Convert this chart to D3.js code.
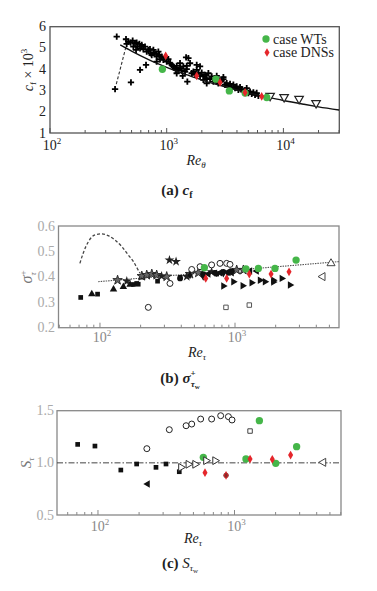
<!DOCTYPE html>
<html><head><meta charset="utf-8">
<script src="https://cdn.jsdelivr.net/npm/d3@7/dist/d3.min.js"></script>
<style>body{margin:0;background:#fff}svg{display:block}text{font-family:"Liberation Serif","DejaVu Serif",serif}</style>
</head><body><svg id="c" width="377" height="591"></svg>
<script>
// ---------- Panel (a) data: Re_theta vs cf x 10^3 ----------
const aCross = [[373,5.53],[361,3.06],[494,3.38],[591,3.97],[665,4.20],
[448,5.41],[469,5.30],[454,5.19],[491,5.25],[511,5.34],[535,5.22],[553,5.25],[518,5.06],[561,5.06],[583,5.19],
[611,5.14],[546,4.91],[591,4.98],[631,4.94],[652,5.06],[674,4.83],[697,4.91],[719,4.94],[729,4.75],[769,4.91],
[779,4.78],[744,4.67],[811,4.72],[820,4.59],[848,4.83],[865,4.67],[906,4.59],[936,4.44],[968,4.56],[1000,4.36],
[1033,4.47],[877,4.47],[820,4.36],[1069,4.28],[1104,4.20],[1140,4.13],[1178,4.05],[1218,4.16],[1259,3.97],[1301,4.05],
[1345,3.94],[1390,4.13],[1436,3.89],[1484,4.00],[1466,4.56],[1534,4.52],[1585,4.28],[1638,3.81],[1693,3.89],[1750,3.73],
[1808,3.97],[1868,3.81],[1931,3.69],[1995,3.84],[2062,3.66],[2131,3.73],[2202,3.58],[2276,3.81],[2352,3.53],[2430,3.66],
[2512,3.42],[2595,3.50],[2683,3.58],[2772,3.34],[2865,3.42],[2961,3.50],[3060,3.53],[3162,3.27],[3268,3.34],[3377,3.22],
[3490,3.31],[3606,3.16],[3727,3.27],[3852,3.11],[3981,3.19],[4113,3.03],[4251,3.16],[4393,3.06],[4540,2.95],[4691,3.00],
[4848,3.11],[5012,2.88],[5179,2.95],[5352,2.84],[5531,2.91],[5715,2.80],[5906,2.88],[6104,2.75],[1503,3.42],[1371,3.69],
[1218,3.81],[2202,3.34],[1484,4.16],[1301,4.28],[1931,4.13],[1808,4.20],[1202,3.97],[2062,3.50],[2683,3.69],[3060,3.63]];
const aGreen = [[918,4.00],[2640,3.53],[3440,2.98],[4700,2.88],[7200,2.67]];
const aRed = [[980,4.63],[1808,3.69],[2865,3.38],[4691,2.91],[6518,2.72]];
const aTriDown = [[7690,2.75],[10140,2.69],[13620,2.61],[19050,2.41]];
const aLineRe = [400,500,700,1000,1500,2000,3000,5000,7000,10000,15000,20000,30000];
const aLineCf = [5.14,4.85,4.45,4.09,3.73,3.49,3.21,2.89,2.71,2.53,2.35,2.23,2.08];
const aDashRe = [370,450];
const aDashCf = [3.3,5.1];
const aYTicks = [1,2,3,4,5,6];
const aXTicks = [100,1000,10000];
const legendLabels = ["case WTs","case DNSs"];

// ---------- Panel (b) data: Re_tau vs sigma+ ----------
const bFilledSquare = [[72,0.319],[96,0.332],[177,0.370],[187,0.374],[192,0.371],[267,0.383],[392,0.398],[582,0.407],[731,0.411],[893,0.414]];
const bFilledTri = [[87,0.332],[126,0.351],[149,0.361],[167,0.370],[204,0.398]];
const bOpenStar = [[135,0.387],[204,0.403],[222,0.407],[242,0.411],[263,0.407],[312,0.401],[464,0.411],[535,0.416],[1029,0.427],[1153,0.427]];
const bFilledStar = [[158,0.383],[286,0.403],[327,0.466],[366,0.460],[439,0.401],[671,0.420]];
const bFilledCircle = [[392,0.394],[582,0.411],[711,0.416],[820,0.420],[945,0.423]];
const bOpenCircle = [[228,0.280],[330,0.374],[478,0.429],[551,0.440],[671,0.447],[774,0.453],[867,0.453],[918,0.449]];
const bFilledLeftTri = [[634,0.411],[711,0.414],[774,0.416],[893,0.420],[945,0.416],[1291,0.423],[1446,0.423]];
const bFilledRightTri = [[820,0.364],[973,0.381],[1140,0.365],[1328,0.377],[1531,0.387],[1667,0.381],[1922,0.387],[1922,0.380],[2220,0.394],[2555,0.368]];
const bFilledDiamond = [[464,0.407],[582,0.401],[820,0.414]];
const bOpenSquare = [[857,0.280],[1276,0.289]];
const bOpenTriUp = [[5140,0.453]];
const bOpenLeftTri = [[4460,0.401]];
const bGreen = [[593,0.436],[1205,0.431],[1489,0.433],[1977,0.433],[2833,0.466]];
const bRed = [[607,0.394],[867,0.394],[1276,0.411],[1849,0.411],[2512,0.420]];
const bDashRe = [71,75,82,92,103,115,129,145,162,177,189,198];
const bDashS = [0.453,0.492,0.538,0.565,0.569,0.562,0.545,0.519,0.486,0.460,0.433,0.414];
const bFitRe = [97,1000,5900];
const bFitS = [0.381,0.426,0.460];
const bYTicks = [0.2,0.3,0.4,0.5,0.6];
const bXTicks = [100,1000];

// ---------- Panel (c) data: Re_tau vs S ----------
const cFilledSquare = [[71,1.177],[95,1.161],[147,0.931],[192,0.989],[266,0.957],[315,0.989],[394,0.915]];
const cFilledLeftTri = [[231,0.797]];
const cOpenCircle = [[228,1.136],[333,1.318],[442,1.356],[486,1.372],[565,1.420],[680,1.420],[792,1.452],[902,1.443],[959,1.411]];
const cOpenRightTri = [[405,0.957],[459,0.986],[514,0.986],[618,1.021],[720,1.021]];
const cOpenSquare = [[1300,1.305]];
const cGreen = [[591,1.053],[1521,1.404],[1213,1.037],[2005,0.995],[2851,1.155]];
const cRed = [[608,0.906],[867,0.880],[1300,1.037],[1892,1.034],[2576,1.075]];
const cDark = [[867,0.880]];
const cOpenLeftTri = [[4478,1.005]];
const cRefLine = [1.0];
const cYTicks = [0.5,1.0,1.5];
const cXTicks = [100,1000];

const GREEN = "#45b649", RED = "#e5262b";
const svg = d3.select("#c");

const plus = {draw(ctx, size){const r=Math.sqrt(size)/2;ctx.moveTo(-r,0);ctx.lineTo(r,0);ctx.moveTo(0,-r);ctx.lineTo(0,r);}};

function marks(g, data, x, y, shape, size, o){
  o = o||{};
  g.append("g").selectAll("path").data(data).join("path")
    .attr("d", d3.symbol(shape, size)())
    .attr("transform", d => `translate(${x(d[0])},${y(d[1])}) rotate(${o.rot||0})`)
    .attr("fill", o.fill||"none").attr("stroke", o.stroke||"none")
    .attr("stroke-width", o.sw||1);
}

function frame(g, x, y, color){
  const [x0,x1]=x.range(), [y0,y1]=y.range();
  g.append("rect").attr("x",x0).attr("y",y1).attr("width",x1-x0).attr("height",y0-y1)
    .attr("fill","none").attr("stroke",color).attr("stroke-width",1.3);
  g.append("g").selectAll("line").data(x.ticks()).join("line")
    .attr("x1",d=>x(d)).attr("x2",d=>x(d)).attr("y1",y0)
    .attr("y2",d=>Math.abs(Math.log10(d)-Math.round(Math.log10(d)))<1e-9 ? y0-5 : y0-3)
    .attr("stroke",color).attr("stroke-width",1);
}

function xLabels(g, ticks, x, yb, color){
  const t = g.append("g").selectAll("text").data(ticks).join("text")
    .attr("x",d=>x(d)+2).attr("y",yb).attr("text-anchor","middle")
    .attr("font-size",14).attr("fill",color);
  t.append("tspan").text("10");
  t.append("tspan").attr("dy",-6).attr("font-size",9).text(d=>Math.round(Math.log10(d)));
}
function yLabels(g, ticks, y, xr, color, fmt){
  g.append("g").selectAll("text").data(ticks).join("text")
    .attr("x",xr).attr("y",d=>y(d)+4.5).attr("text-anchor","end")
    .attr("font-size",14).attr("fill",color).text(fmt);
}

// ================= Panel (a) =================
{
  const g = svg.append("g");
  const x = d3.scaleLog().domain([100,30130]).range([50,339.3]);
  const y = d3.scaleLinear().domain([1,6]).range([133,26.7]);
  frame(g,x,y,"#555");
  xLabels(g,aXTicks,x,150,"#222");
  yLabels(g,aYTicks,y,46,"#222",d=>d);
  const line = d3.line().x(d=>x(d[0])).y(d=>y(d[1])).curve(d3.curveMonotoneX);
  g.append("path").attr("d",line(aDashRe.map((r,i)=>[r,aDashCf[i]]))).attr("fill","none")
    .attr("stroke","#333").attr("stroke-width",1.1).attr("stroke-dasharray","3,2");
  marks(g,aCross,x,y,plus,40,{stroke:"#000",sw:1.8});
  g.append("path").attr("d",line(aLineRe.map((r,i)=>[r,aLineCf[i]]))).attr("fill","none")
    .attr("stroke","#111").attr("stroke-width",1.4);
  marks(g,aTriDown,x,y,d3.symbolTriangle,32,{fill:"#fff",stroke:"#222",sw:1.2,rot:180});
  marks(g,aGreen,x,y,d3.symbolCircle,42,{fill:GREEN});
  marks(g,aRed,x,y,d3.symbolDiamond,22,{fill:RED});
  // legend
  g.append("path").attr("d",d3.symbol(d3.symbolCircle,42)()).attr("transform","translate(266,39)").attr("fill",GREEN);
  g.append("path").attr("d",d3.symbol(d3.symbolDiamond,22)()).attr("transform","translate(267,52.5)").attr("fill",RED);
  g.selectAll(".lg").data(legendLabels).join("text").attr("x",273).attr("y",(d,i)=>43.5+i*13.5)
    .attr("font-size",14).attr("fill","#222").text(d=>d);
  // axis titles
  const yt = g.append("text").attr("transform","translate(33,70) rotate(-90)").attr("text-anchor","middle").attr("font-size",14).attr("fill","#222");
  yt.append("tspan").attr("font-style","italic").text("c");
  yt.append("tspan").attr("font-size",9).attr("dy",3).text("f");
  yt.append("tspan").attr("dy",-3).text(" × 10");
  yt.append("tspan").attr("font-size",9).attr("dy",-6).text("3");
  const xt = g.append("text").attr("x",196).attr("y",165).attr("text-anchor","middle").attr("font-size",14).attr("fill","#222").attr("font-style","italic");
  xt.append("tspan").text("Re");
  xt.append("tspan").attr("font-size",9).attr("dy",3).text("θ");
  const cap = g.append("text").attr("x",177).attr("y",195).attr("text-anchor","middle").attr("font-size",15).attr("fill","#222");
  cap.append("tspan").attr("font-weight","bold").text("(a) ");
  cap.append("tspan").attr("font-weight","bold").attr("font-style","italic").text("c");
  cap.append("tspan").attr("font-weight","bold").attr("font-size",10).attr("dy",3).text("f");
}

// ================= Panel (b) =================
{
  const g = svg.append("g");
  const x = d3.scaleLog().domain([49.3,5890]).range([58.5,339]);
  const y = d3.scaleLinear().domain([0.2,0.6]).range([327.7,226]);
  frame(g,x,y,"#888");
  xLabels(g,bXTicks,x,342,"#888");
  yLabels(g,bYTicks,y,55,"#aaa",d=>d.toFixed(1));
  const line = d3.line().x(d=>x(d[0])).y(d=>y(d[1])).curve(d3.curveMonotoneX);
  g.append("path").attr("d",line(bDashRe.map((r,i)=>[r,bDashS[i]]))).attr("fill","none")
    .attr("stroke","#444").attr("stroke-width",1.3).attr("stroke-dasharray","3,2");
  g.append("path").attr("d",line(bFitRe.map((r,i)=>[r,bFitS[i]]))).attr("fill","none")
    .attr("stroke","#555").attr("stroke-width",1.1).attr("stroke-dasharray","1.5,1");
  marks(g,bFilledSquare,x,y,d3.symbolSquare,22,{fill:"#111"});
  marks(g,bFilledTri,x,y,d3.symbolTriangle,24,{fill:"#111"});
  marks(g,bOpenStar,x,y,d3.symbolStar,28,{fill:"#666",stroke:"#222",sw:0.9});
  marks(g,bFilledStar,x,y,d3.symbolStar,30,{fill:"#222"});
  marks(g,bFilledCircle,x,y,d3.symbolCircle,26,{fill:"#111"});
  marks(g,bOpenCircle,x,y,d3.symbolCircle,28,{fill:"#fff",stroke:"#222",sw:1});
  marks(g,bFilledLeftTri,x,y,d3.symbolTriangle,24,{fill:"#111",rot:-90});
  marks(g,bFilledRightTri,x,y,d3.symbolTriangle,24,{fill:"#111",rot:90});
  marks(g,bFilledDiamond,x,y,d3.symbolDiamond,20,{fill:"#111"});
  marks(g,bOpenSquare,x,y,d3.symbolSquare,20,{fill:"#fff",stroke:"#555",sw:1});
  marks(g,bOpenTriUp,x,y,d3.symbolTriangle,28,{fill:"#fff",stroke:"#444",sw:1});
  marks(g,bOpenLeftTri,x,y,d3.symbolTriangle,28,{fill:"#fff",stroke:"#444",sw:1,rot:-90});
  marks(g,bGreen,x,y,d3.symbolCircle,42,{fill:GREEN});
  marks(g,bRed,x,y,d3.symbolDiamond,22,{fill:RED});
  const yt = g.append("text").attr("transform","translate(32,277) rotate(-90)").attr("text-anchor","middle").attr("font-size",16).attr("fill","#777");
  yt.append("tspan").attr("font-style","italic").text("σ");
  yt.append("tspan").attr("font-size",9).attr("dy",-6).text("+");
  yt.append("tspan").attr("font-size",9).attr("dx",-5).attr("dy",10).attr("font-style","italic").text("τ");
  const xt = g.append("text").attr("x",197).attr("y",357).attr("text-anchor","middle").attr("font-size",14).attr("fill","#222").attr("font-style","italic");
  xt.append("tspan").text("Re");
  xt.append("tspan").attr("font-size",9).attr("dy",3).text("τ");
  const cap = g.append("text").attr("x",180).attr("y",383).attr("text-anchor","middle").attr("font-size",15).attr("fill","#222");
  cap.append("tspan").attr("font-weight","bold").text("(b) ");
  cap.append("tspan").attr("font-weight","bold").attr("font-style","italic").text("σ");
  cap.append("tspan").attr("font-weight","bold").attr("font-size",9).attr("dy",-7).text("+");
  cap.append("tspan").attr("font-weight","bold").attr("font-style","italic").attr("font-size",9).attr("dx",-5).attr("dy",11).text("τ");
  cap.append("tspan").attr("font-weight","bold").attr("font-size",7).attr("dy",2).text("w");
}

// ================= Panel (c) =================
{
  const g = svg.append("g");
  const x = d3.scaleLog().domain([50.1,6026]).range([57,341]);
  const y = d3.scaleLinear().domain([0.5,1.5]).range([515,410.7]);
  frame(g,x,y,"#888");
  xLabels(g,cXTicks,x,531,"#888");
  yLabels(g,cYTicks,y,54,"#aaa",d=>d.toFixed(1));
  g.selectAll(".ref").data(cRefLine).join("line").attr("x1",x.range()[0]).attr("x2",x.range()[1])
    .attr("y1",d=>y(d)).attr("y2",d=>y(d)).attr("stroke","#444").attr("stroke-width",1)
    .attr("stroke-dasharray","6,2,1.5,2");
  marks(g,cFilledSquare,x,y,d3.symbolSquare,22,{fill:"#111"});
  marks(g,cFilledLeftTri,x,y,d3.symbolTriangle,24,{fill:"#111",rot:-90});
  marks(g,cOpenCircle,x,y,d3.symbolCircle,28,{fill:"#fff",stroke:"#222",sw:1});
  marks(g,cOpenSquare,x,y,d3.symbolSquare,20,{fill:"#fff",stroke:"#444",sw:1});
  marks(g,cGreen,x,y,d3.symbolCircle,42,{fill:GREEN});
  marks(g,cOpenRightTri,x,y,d3.symbolTriangle,26,{fill:"#fff",stroke:"#333",sw:1,rot:90});
  marks(g,cDark,x,y,d3.symbolCircle,22,{fill:"#6a3a3a"});
  marks(g,cRed,x,y,d3.symbolDiamond,22,{fill:RED,stroke:"none"});
  marks(g,cDark,x,y,d3.symbolDiamond,10,{fill:"#8a2a2a"});
  marks(g,cOpenLeftTri,x,y,d3.symbolTriangle,28,{fill:"#fff",stroke:"#444",sw:1,rot:-90});
  const yt = g.append("text").attr("transform","translate(31,463) rotate(-90)").attr("text-anchor","middle").attr("font-size",15).attr("fill","#777");
  yt.append("tspan").attr("font-style","italic").text("S");
  yt.append("tspan").attr("font-size",9).attr("dy",3).attr("font-style","italic").text("τ");
  const xt = g.append("text").attr("x",193).attr("y",543).attr("text-anchor","middle").attr("font-size",14).attr("fill","#222").attr("font-style","italic");
  xt.append("tspan").text("Re");
  xt.append("tspan").attr("font-size",9).attr("dy",3).text("τ");
  const cap = g.append("text").attr("x",180).attr("y",568).attr("text-anchor","middle").attr("font-size",15).attr("fill","#222");
  cap.append("tspan").attr("font-weight","bold").text("(c) ");
  cap.append("tspan").attr("font-style","italic").text("S");
  cap.append("tspan").attr("font-style","italic").attr("font-size",9).attr("dy",3).text("τ");
  cap.append("tspan").attr("font-size",7).attr("dy",2).text("w");
}
</script></body></html>
